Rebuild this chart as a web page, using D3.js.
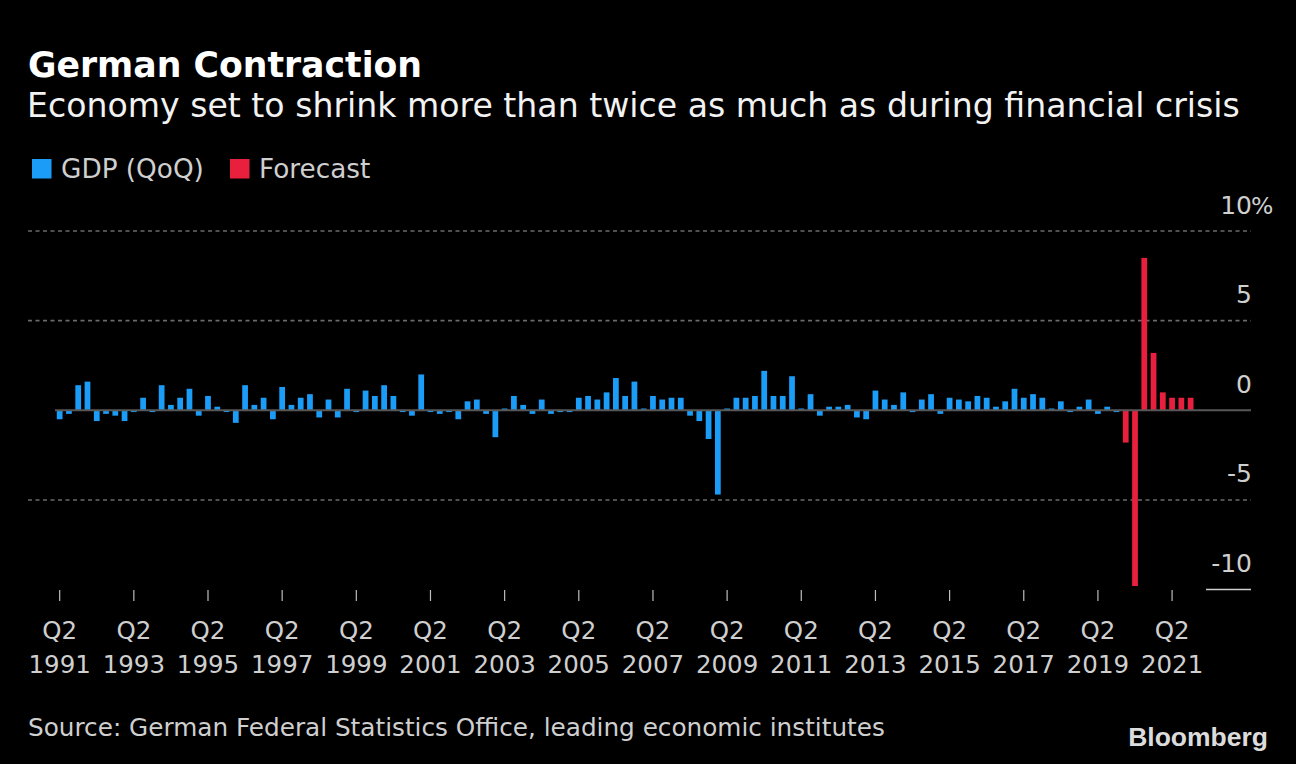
<!DOCTYPE html>
<html><head><meta charset="utf-8">
<script src="https://cdn.jsdelivr.net/npm/d3@7"></script>
<style>
html,body{margin:0;padding:0;background:#000;}
svg{display:block;}
text{font-family:"DejaVu Sans",sans-serif;}
</style></head><body>
<svg id="chart" width="1296" height="764"></svg>
<script>
// ---- data ----
const firstYear = 1991;
const firstQuarter = 2;
// GDP (QoQ %), 1991 Q2 .. 2019 Q4
const gdpValues = [
  -0.5, -0.2, 1.4, 1.6, -0.6, -0.2, -0.3, -0.6, -0.1, 0.7,
  -0.1, 1.4, 0.3, 0.7, 1.2, -0.3, 0.8, 0.2, -0.1, -0.7,
  1.4, 0.3, 0.7, -0.5, 1.3, 0.3, 0.7, 0.9, -0.4, 0.6,
  -0.4, 1.2, -0.1, 1.1, 0.8, 1.4, 0.8, -0.1, -0.3, 2.0,
  -0.1, -0.2, -0.1, -0.5, 0.5, 0.6, -0.2, -1.5, 0.1, 0.8,
  0.3, -0.2, 0.6, -0.2, -0.1, -0.1, 0.7, 0.8, 0.6, 1.0,
  1.8, 0.8, 1.6, 0.1, 0.8, 0.6, 0.7, 0.7, -0.3, -0.6,
  -1.6, -4.7, 0.1, 0.7, 0.7, 0.8, 2.2, 0.8, 0.8, 1.9,
  0.1, 0.9, -0.3, 0.2, 0.2, 0.3, -0.4, -0.5, 1.1, 0.6,
  0.3, 1.0, -0.1, 0.6, 0.9, -0.2, 0.7, 0.6, 0.5, 0.8,
  0.7, 0.2, 0.5, 1.2, 0.7, 0.9, 0.7, 0.1, 0.5, -0.1,
  0.2, 0.6, -0.2, 0.2, -0.1
];
// Forecast (QoQ %), 2020 Q1 .. 2021 Q4
const forecastValues = [-1.8, -9.8, 8.5, 3.2, 1.0, 0.7, 0.7, 0.7];
const yTickValues = [10, 5, 0, -5, -10];
const xTickStep = 8; // every second year, Q2
const seriesNames = ["GDP (QoQ)", "Forecast"];
const seriesColors = ["#1a9cf7", "#e8203e"];

// ---- build categories (quarters) ----
const nTotal = gdpValues.length + forecastValues.length;
const quarters = [];
for (let i = 0; i < nTotal; i++) {
  const q0 = (firstQuarter - 1) + i;
  quarters.push({year: firstYear + Math.floor(q0 / 4), q: (q0 % 4) + 1});
}
const cats = quarters.map(d => d.year + "Q" + d.q);
const rows = cats.map((c, i) => ({
  cat: c,
  value: i < gdpValues.length ? gdpValues[i] : forecastValues[i - gdpValues.length],
  series: i < gdpValues.length ? 0 : 1
}));

// ---- layout ----
const svg = d3.select("#chart");
svg.append("rect").attr("width", 1296).attr("height", 764).attr("fill", "#000");

const x = d3.scaleBand().domain(cats).range([56.8, 1193.5]).paddingInner(0.38).paddingOuter(0);
const y = d3.scaleLinear().domain([-10, 10]).range([589.6, 231]);

// titles
svg.append("text").attr("x", 28).attr("y", 77).attr("fill", "#fff")
  .attr("font-size", 34.7).attr("font-weight", "bold").text("German Contraction");
svg.append("text").attr("x", 27).attr("y", 117).attr("fill", "#f2f2f2")
  .attr("font-size", 33.15).text("Economy set to shrink more than twice as much as during financial crisis");

// legend
const legendX = [32, 230];
seriesNames.forEach((name, i) => {
  svg.append("rect").attr("x", legendX[i]).attr("y", 159).attr("width", 19.5).attr("height", 19.5)
    .attr("fill", seriesColors[i]);
  svg.append("text").attr("x", legendX[i] + 29).attr("y", 178).attr("fill", "#cfcfcf")
    .attr("font-size", 26.3).text(name);
});

// gridlines
const gridX0 = 28, gridX1 = 1251;
yTickValues.filter(v => v !== 0 && v !== -10).forEach(v => {
  svg.append("line").attr("x1", gridX0).attr("x2", gridX1)
    .attr("y1", y(v)).attr("y2", y(v))
    .attr("stroke", "#6a6a6a").attr("stroke-width", 1.6).attr("stroke-dasharray", "4,3.5");
});
// -10 bottom marker
svg.append("line").attr("x1", 1206).attr("x2", gridX1).attr("y1", y(-10)).attr("y2", y(-10))
  .attr("stroke", "#cfcfcf").attr("stroke-width", 1.5);

// bars
svg.append("g").selectAll("rect").data(rows).join("rect")
  .attr("x", d => x(d.cat))
  .attr("width", x.bandwidth())
  .attr("y", d => y(Math.max(0, d.value)))
  .attr("height", d => Math.abs(y(d.value) - y(0)))
  .attr("fill", d => seriesColors[d.series]);

// zero line
svg.append("line").attr("x1", 55).attr("x2", gridX1).attr("y1", y(0)).attr("y2", y(0))
  .attr("stroke", "#575757").attr("stroke-width", 2);

// y labels
yTickValues.forEach(v => {
  svg.append("text").attr("x", 1252).attr("y", y(v) - 17.5).attr("text-anchor", "end")
    .attr("fill", "#cfcfcf").attr("font-size", 25).text(v < 0 ? "-" + Math.abs(v) : String(v));
});
svg.append("text").attr("x", 1251).attr("y", y(10) - 17.5).attr("fill", "#cfcfcf")
  .attr("font-size", 23.5).attr("letter-spacing", 0).text("%");

// x ticks and labels
const xTicks = cats.filter((c, i) => i % xTickStep === 0);
const xg = svg.append("g");
xTicks.forEach(c => {
  const cx = x(c) + x.bandwidth() / 2;
  const q = quarters[cats.indexOf(c)];
  xg.append("line").attr("x1", cx).attr("x2", cx).attr("y1", 590).attr("y2", 601)
    .attr("stroke", "#bdbdbd").attr("stroke-width", 1.2);
  xg.append("text").attr("x", cx).attr("y", 639).attr("text-anchor", "middle")
    .attr("fill", "#cfcfcf").attr("font-size", 24.5).text("Q" + q.q);
  xg.append("text").attr("x", cx).attr("y", 673).attr("text-anchor", "middle")
    .attr("fill", "#cfcfcf").attr("font-size", 24.5).text(q.year);
});

// source & logo
svg.append("text").attr("x", 28).attr("y", 736).attr("fill", "#cfcfcf")
  .attr("font-size", 24.73).text("Source: German Federal Statistics Office, leading economic institutes");
svg.append("text").attr("x", 1268).attr("y", 746).attr("text-anchor", "end")
  .attr("fill", "#dcdcdc").attr("font-size", 26.5).attr("font-weight", "bold")
  .style("font-family", "'Liberation Sans', Arial, sans-serif").text("Bloomberg");
</script>
</body></html>
